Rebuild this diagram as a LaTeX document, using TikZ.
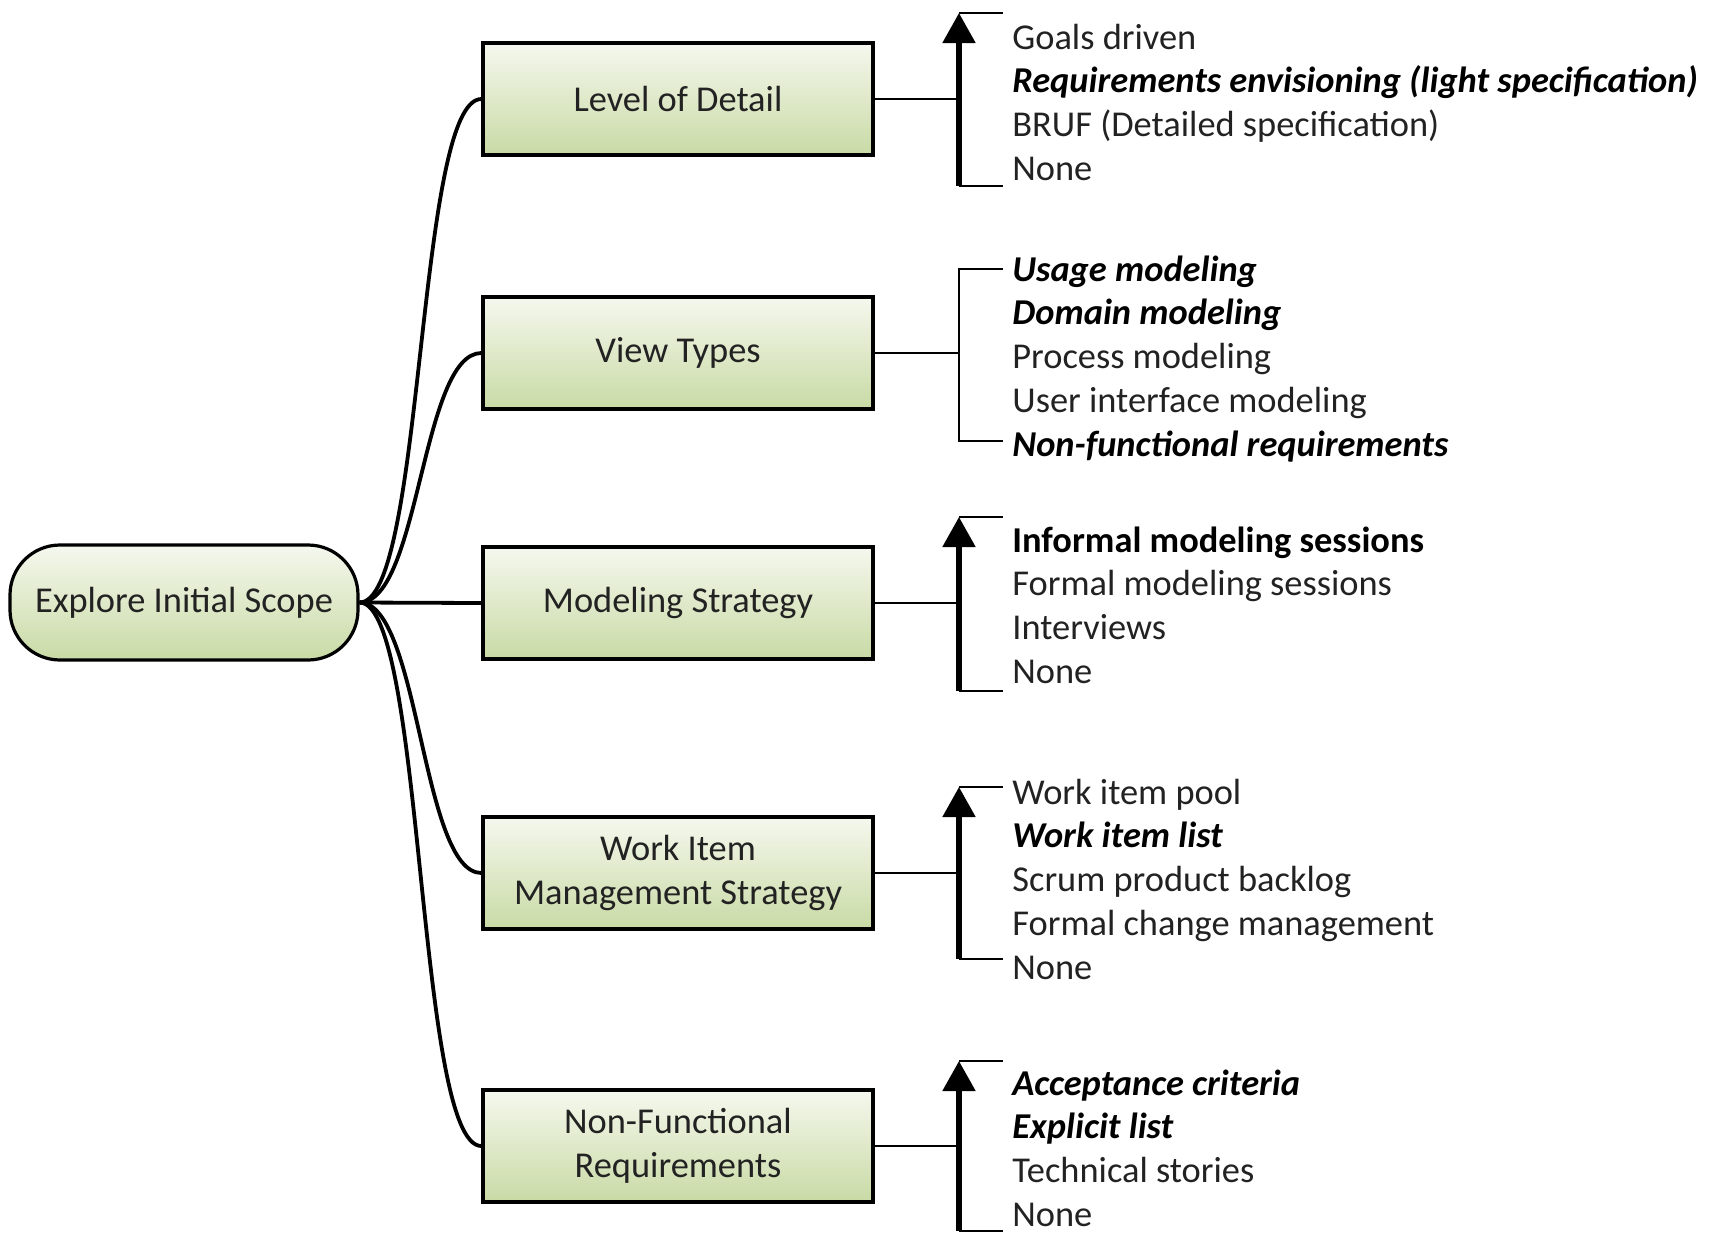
\documentclass[tikz,border=0pt]{standalone}
\usepackage{fontspec}
\setmainfont{Carlito}
\usetikzlibrary{arrows.meta,calc}
\definecolor{gtop}{HTML}{F5F8EE}
\definecolor{gbot}{HTML}{C9DAA5}
\definecolor{txt}{HTML}{222222}
\begin{document}
\begin{tikzpicture}[x=0.5pt,y=-0.5pt,
  box/.style={draw=black, line width=1.6pt, top color=gtop, bottom color=gbot, minimum width=195pt, minimum height=56pt, align=center, font=\fontsize{18.2}{22}\selectfont, text=txt, inner sep=0pt},
  rootbox/.style={box, rounded corners=25pt, minimum width=174pt, minimum height=57.5pt},
  item/.style={anchor=base west, inner sep=0pt, font=\fontsize{18.2}{22}\selectfont, text=txt},
  hi/.style={item, font=\fontsize{18.2}{22}\selectfont\bfseries\itshape, text=black},
  hib/.style={item, font=\fontsize{18.2}{22}\selectfont\bfseries, text=black},
  link/.style={line width=1.9pt},
  conn/.style={line width=1.4pt},
  tick/.style={line width=1.4pt},
  axisarrow/.style={line width=2.6pt, -{Triangle[length=15pt,width=16pt]}},
]
\useasboundingbox (0,0) rectangle (1719,1233);

% root and category boxes
\node[rootbox] (root) at (184,602.5) {Explore Initial Scope};
\node[box] (lod) at (678,99) {Level of Detail};
\node[box] (vt) at (678,353) {View Types};
\node[box] (ms) at (678,603) {Modeling Strategy};
\node[box] (wi) at (678,873) {Work Item\\Management Strategy};
\node[box] (nfr) at (678,1146) {Non-Functional\\Requirements};

% curves from root
\draw[link] (root.east) .. controls +(65,0) and +(-65,0) .. (lod.west);
\draw[link] (root.east) .. controls +(60,0) and +(-60,0) .. (vt.west);
\draw[link] (root.east) -- (ms.west);
\draw[link] (root.east) .. controls +(60,0) and +(-60,0) .. (wi.west);
\draw[link] (root.east) .. controls +(65,0) and +(-65,0) .. (nfr.west);

% bracket coordinates
\coordinate (b1t) at (959,13);   \coordinate (b1b) at (959,186);
\coordinate (b2t) at (959,269);  \coordinate (b2b) at (959,441);
\coordinate (b3t) at (959,517);  \coordinate (b3b) at (959,691);
\coordinate (b4t) at (959,787);  \coordinate (b4b) at (959,959);
\coordinate (b5t) at (959,1061); \coordinate (b5b) at (959,1231);

% group 1
\draw[tick] (b1t) -- ++(44,0);
\draw[tick] (b1b) -- ++(44,0);
\draw[axisarrow] (b1b) -- (b1t);
\draw[conn] (lod.east) -- (lod.east -| b1t);
\node[item] (g1a) at (1012,49) {Goals driven};
\node[hi]   (g1b) at (1012,92.85) {Requirements envisioning (light specification)};
\node[item] (g1c) at (1012,136.7) {BRUF (Detailed specification)};
\node[item] (g1d) at (1012,180.55) {None};

% group 2
\draw[tick] ($(b2t)+(44,0)$) -- (b2t) -- (b2b) -- ++(44,0);
\draw[conn] (vt.east) -- (vt.east -| b2t);
\node[hi]   (g2a) at (1012,281) {Usage modeling};
\node[hi]   (g2b) at (1012,324.85) {Domain modeling};
\node[item] (g2c) at (1012,368.7) {Process modeling};
\node[item] (g2d) at (1012,412.55) {User interface modeling};
\node[hi]   (g2e) at (1012,456.4) {Non-functional requirements};

% group 3
\draw[tick] (b3t) -- ++(44,0);
\draw[tick] (b3b) -- ++(44,0);
\draw[axisarrow] (b3b) -- (b3t);
\draw[conn] (ms.east) -- (ms.east -| b3t);
\node[hib]  (g3a) at (1012,552) {Informal modeling sessions};
\node[item] (g3b) at (1012,595.85) {Formal modeling sessions};
\node[item] (g3c) at (1012,639.7) {Interviews};
\node[item] (g3d) at (1012,683.55) {None};

% group 4
\draw[tick] (b4t) -- ++(44,0);
\draw[tick] (b4b) -- ++(44,0);
\draw[axisarrow] (b4b) -- (b4t);
\draw[conn] (wi.east) -- (wi.east -| b4t);
\node[item] (g4a) at (1012,804) {Work item pool};
\node[hi]   (g4b) at (1012,847.85) {Work item list};
\node[item] (g4c) at (1012,891.7) {Scrum product backlog};
\node[item] (g4d) at (1012,935.55) {Formal change management};
\node[item] (g4e) at (1012,979.4) {None};

% group 5
\draw[tick] (b5t) -- ++(44,0);
\draw[tick] (b5b) -- ++(44,0);
\draw[axisarrow] (b5b) -- (b5t);
\draw[conn] (nfr.east) -- (nfr.east -| b5t);
\node[hi]   (g5a) at (1012,1095) {Acceptance criteria};
\node[hi]   (g5b) at (1012,1138.85) {Explicit list};
\node[item] (g5c) at (1012,1182.7) {Technical stories};
\node[item] (g5d) at (1012,1226.55) {None};
\end{tikzpicture}
\end{document}
